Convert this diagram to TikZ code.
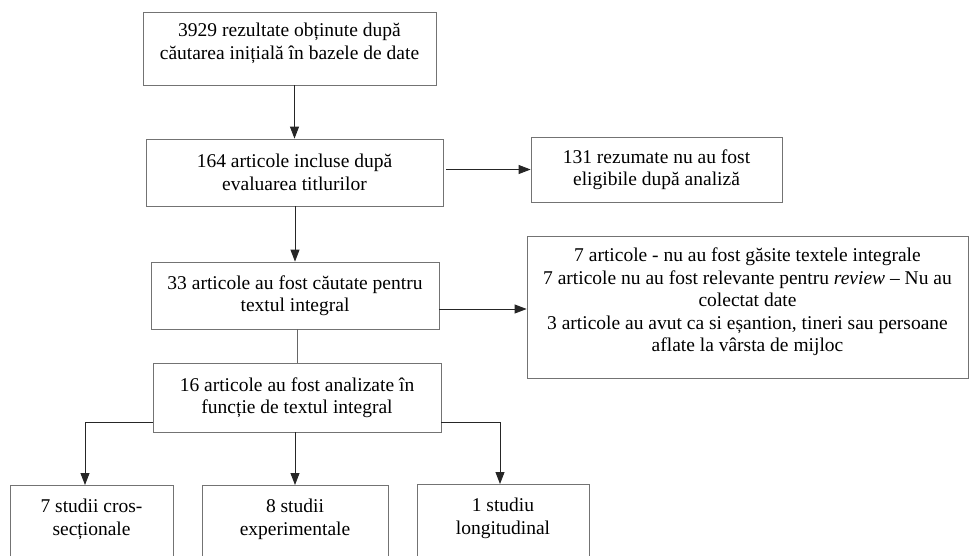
\documentclass[tikz,border=0pt]{standalone}
\usepackage{fontspec}
\setmainfont{LiberationSerif}[Extension=.ttf, UprightFont=*-Regular, ItalicFont=*-Italic, BoldFont=*-Bold, BoldItalicFont=*-BoldItalic]
\usetikzlibrary{arrows.meta}
\begin{document}
\begin{tikzpicture}[x=1pt,y=-1pt,
  fnt/.style={font=\fontsize{19.5}{22.5}\selectfont},
  box/.style={draw=black!55, line width=0.8pt, align=center, inner sep=0pt, fnt},
  txt/.style={align=center, inner sep=0pt, fnt},
  arr/.style={draw=black!85, line width=0.9pt, -{Triangle[length=12pt,width=9pt]}},
  ln/.style={draw=black!60, line width=0.8pt}]
\useasboundingbox (0,0) rectangle (971,555);
\clip (0,0) rectangle (971,555);
\node[box, minimum width=293pt, minimum height=73pt] (b1) at (289.5,48.5) {};
\node[txt] (b1t) at (289.5,43.5) {3929 rezultate obținute după\\căutarea inițială în bazele de date};
\node[box, minimum width=297pt, minimum height=67pt] (b2) at (294.5,172.5) {164 articole incluse după\\evaluarea titlurilor};
\node[box, minimum width=251pt, minimum height=65pt] (r1) at (656.5,169.5) {131 rezumate nu au fost\\eligibile după analiză};
\node[box, minimum width=288pt, minimum height=67pt] (b3) at (295,295.5) {33 articole au fost căutate pentru\\textul integral};
\node[box, minimum width=441pt, minimum height=142pt] (r2) at (747.5,307) {};
\node[txt] (r2t) at (747.5,302) {7 articole - nu au fost găsite textele integrale\\7 articole nu au fost relevante pentru \textit{review} – Nu au\\colectat date\\3 articole au avut ca si eșantion, tineri sau persoane\\aflate la vârsta de mijloc};
\node[box, minimum width=288pt, minimum height=69pt] (b4) at (297,397.5) {16 articole au fost analizate în\\funcție de textul integral};
\node[box, minimum width=163pt, minimum height=120pt, anchor=north] (c1) at (91.5,485) {};
\node[box, minimum width=186pt, minimum height=120pt, anchor=north] (c2) at (295,485) {};
\node[box, minimum width=172pt, minimum height=120pt, anchor=north] (c3) at (503,484) {};
\node[txt, anchor=north] (c1t) at ([yshift=-14pt]c1.north) {7 studii cros-\\secționale};
\node[txt, anchor=north] (c2t) at ([yshift=-14pt]c2.north) {8 studii\\experimentale};
\node[txt, anchor=north] (c3t) at ([yshift=-14pt]c3.north) {1 studiu\\longitudinal};
\draw[arr] (b2.north |- b1.south) -- (b2.north);
\draw[arr] (b3.north |- b2.south) -- (b3.north);
\draw[arr] ([xshift=3pt]b2.east |- r1.west) -- (r1.west);
\draw[arr] ([yshift=-2pt]b3.east |- r2.west) -- ([yshift=-2pt]r2.west);
\draw[ln] (b4.north |- b3.south) -- (b4.north);
\draw[arr] ([yshift=10pt]b4.south west) -| ([xshift=-6.5pt]c1.north);
\draw[arr] (c2.north |- b4.south) -- (c2.north);
\draw[arr] ([yshift=10pt]b4.south east) -| ([xshift=-3pt]c3.north);
\end{tikzpicture}
\end{document}
